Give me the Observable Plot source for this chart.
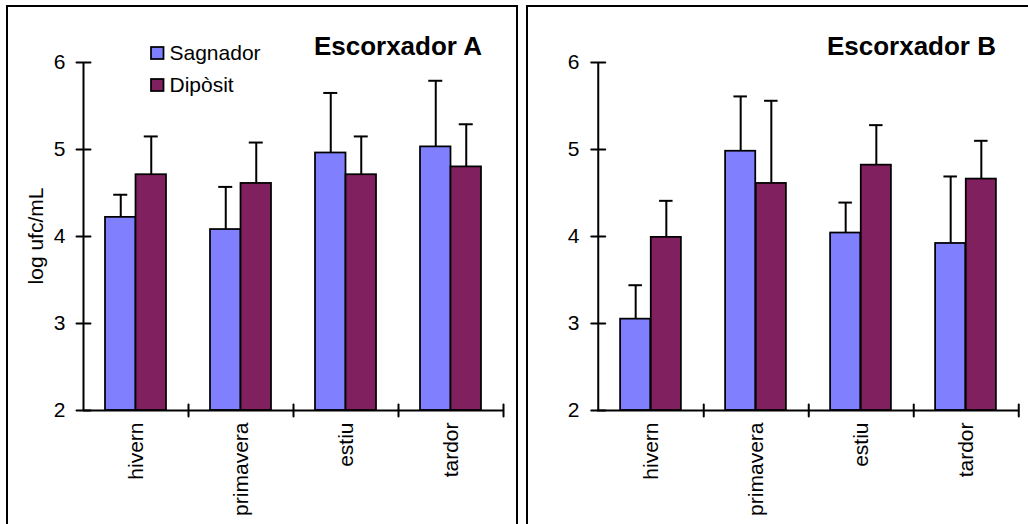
<!DOCTYPE html>
<html>
<head>
<meta charset="utf-8">
<script src="https://cdn.jsdelivr.net/npm/d3@7"></script>
<script src="https://cdn.jsdelivr.net/npm/@observablehq/plot@0.6"></script>
<style>
  html, body { margin: 0; padding: 0; background: #fff; }
  #wrap { position: relative; width: 1028px; height: 524px; overflow: hidden; background: #fff;
          font-family: "Liberation Sans", Arial, sans-serif; }
</style>
</head>
<body>
<div id="wrap"></div>
<script>
// ---- data ----
const seasons = ["hivern", "primavera", "estiu", "tardor"];
const series = ["Sagnador", "Dipòsit"];
const colors = ["#8080ff", "#80205f"];
const yTicks = [2, 3, 4, 5, 6];
const titles = ["Escorxador A", "Escorxador B"];
const yLabel = "log ufc/mL";

const A_sagnador = [4.22, 4.08, 4.96, 5.03];
const A_sagnadorErr = [4.48, 4.57, 5.65, 5.79];
const A_diposit = [4.71, 4.61, 4.71, 4.80];
const A_dipositErr = [5.15, 5.08, 5.15, 5.29];

const B_sagnador = [3.05, 4.98, 4.04, 3.92];
const B_sagnadorErr = [3.44, 5.61, 4.39, 4.69];
const B_diposit = [3.99, 4.61, 4.82, 4.66];
const B_dipositErr = [4.41, 5.56, 5.28, 5.10];

function table(vals, errs) {
  return seasons.map((s, i) => ({season: s, value: vals[i], err: errs[i]}));
}

const font = "'Liberation Sans', Arial, sans-serif";
const fs = 21;
const lineShape = { draw(context, l) { context.moveTo(0, 0); context.lineTo(0, -l); } };

function panel(sag, dip, {left, width, ml, mr}) {
  const mt = 62, mb = 114, height = 524;
  const bw = (width - ml - mr) / seasons.length;
  const groupW = bw * 61 / 105;
  const barW = groupW / 2;
  const pad = (bw - groupW) / 2;
  const capW = 14;
  const capInL0 = pad + barW / 2 - capW / 2;           // sagnador cap
  const capInL1 = pad + barW + barW / 2 - capW / 2;    // diposit cap
  const yMin = yTicks[0], yMax = yTicks[yTicks.length - 1];

  const chart = Plot.plot({
    width, height,
    marginLeft: ml, marginRight: mr, marginTop: mt, marginBottom: mb,
    style: {fontFamily: font, fontSize: fs + "px", background: "transparent", color: "#000"},
    x: {domain: seasons, padding: 0, axis: null},
    y: {domain: [yMin, yMax], axis: null},
    marks: [
      // bars
      Plot.barY(sag, {x: "season", y1: yMin, y2: "value", fill: colors[0], stroke: "#000", strokeWidth: 1.75,
        insetLeft: pad, insetRight: bw - pad - barW}),
      Plot.barY(dip, {x: "season", y1: yMin, y2: "value", fill: colors[1], stroke: "#000", strokeWidth: 1.75,
        insetLeft: pad + barW, insetRight: pad}),
      // error bars (upper only)
      Plot.ruleX(sag, {x: "season", y1: "value", y2: "err", dx: -barW / 2, stroke: "#000", strokeWidth: 2}),
      Plot.tickY(sag, {x: "season", y: "err", insetLeft: capInL0, insetRight: bw - capInL0 - capW, stroke: "#000", strokeWidth: 2}),
      Plot.ruleX(dip, {x: "season", y1: "value", y2: "err", dx: barW / 2, stroke: "#000", strokeWidth: 2}),
      Plot.tickY(dip, {x: "season", y: "err", insetLeft: capInL1, insetRight: bw - capInL1 - capW, stroke: "#000", strokeWidth: 2}),
      // axis lines
      Plot.ruleY([yMin], {stroke: "#000", strokeWidth: 2}),
      Plot.ruleX([seasons[0]], {x: d => d, y1: yMin, y2: yMax, dx: -bw / 2, stroke: "#000", strokeWidth: 2}),
      // y ticks (crossing)
      Plot.vector(yTicks, {x: () => seasons[0], y: d => d, dx: -bw / 2, rotate: 90, length: 14, anchor: "middle",
        shape: lineShape, stroke: "#000", strokeWidth: 2}),
      // x ticks at category boundaries (crossing)
      Plot.vector(seasons, {x: d => d, y: () => yMin, dx: bw / 2, length: 12, anchor: "middle",
        shape: lineShape, stroke: "#000", strokeWidth: 2}),
      // tick labels
      Plot.axisY({ticks: yTicks, tickSize: 0, tickPadding: 18, fontSize: fs, label: null, tickFormat: d => String(d)}),
      Plot.axisX({tickSize: 0, tickPadding: 12, tickRotate: -90, fontSize: fs, label: null})
    ]
  });
  chart.style.position = "absolute";
  chart.style.left = left + "px";
  chart.style.top = "0px";
  return chart;
}

const wrap = document.getElementById("wrap");
wrap.appendChild(panel(table(A_sagnador, A_sagnadorErr), table(A_diposit, A_dipositErr),
  {left: 0, width: 517, ml: 83, mr: 14}));
wrap.appendChild(panel(table(B_sagnador, B_sagnadorErr), table(B_diposit, B_dipositErr),
  {left: 520, width: 508, ml: 77, mr: 9}));

// overlay: panel borders, titles, legend, y label
const svg = d3.select(wrap).append("svg")
  .attr("width", 1028).attr("height", 524)
  .style("position", "absolute").style("left", "0px").style("top", "0px")
  .style("font-family", font);

const frames = [{x: 7, w: 510}, {x: 527, w: 520}];
svg.selectAll("rect.frame").data(frames).join("rect")
  .attr("class", "frame")
  .attr("x", d => d.x).attr("y", 6).attr("width", d => d.w).attr("height", 600)
  .attr("fill", "none").attr("stroke", "#000").attr("stroke-width", 2);

const titleEnds = [482, 996];
svg.selectAll("text.title").data(titles).join("text")
  .attr("class", "title")
  .attr("x", (d, i) => titleEnds[i]).attr("y", 55)
  .attr("text-anchor", "end")
  .attr("font-weight", "bold").attr("font-size", 26)
  .text(d => d);

const leg = svg.selectAll("g.leg").data(series).join("g")
  .attr("class", "leg")
  .attr("transform", (d, i) => `translate(151,${47 + i * 32})`);
leg.append("rect").attr("width", 12.5).attr("height", 12)
  .attr("fill", (d, i) => colors[i]).attr("stroke", "#000").attr("stroke-width", 1.75);
leg.append("text").attr("x", 18.5).attr("y", 13).attr("font-size", fs).text(d => d);

svg.append("text")
  .attr("transform", "translate(35,236) rotate(-90)")
  .attr("text-anchor", "middle").attr("dominant-baseline", "central")
  .attr("font-size", fs)
  .text(yLabel);
</script>
</body>
</html>
